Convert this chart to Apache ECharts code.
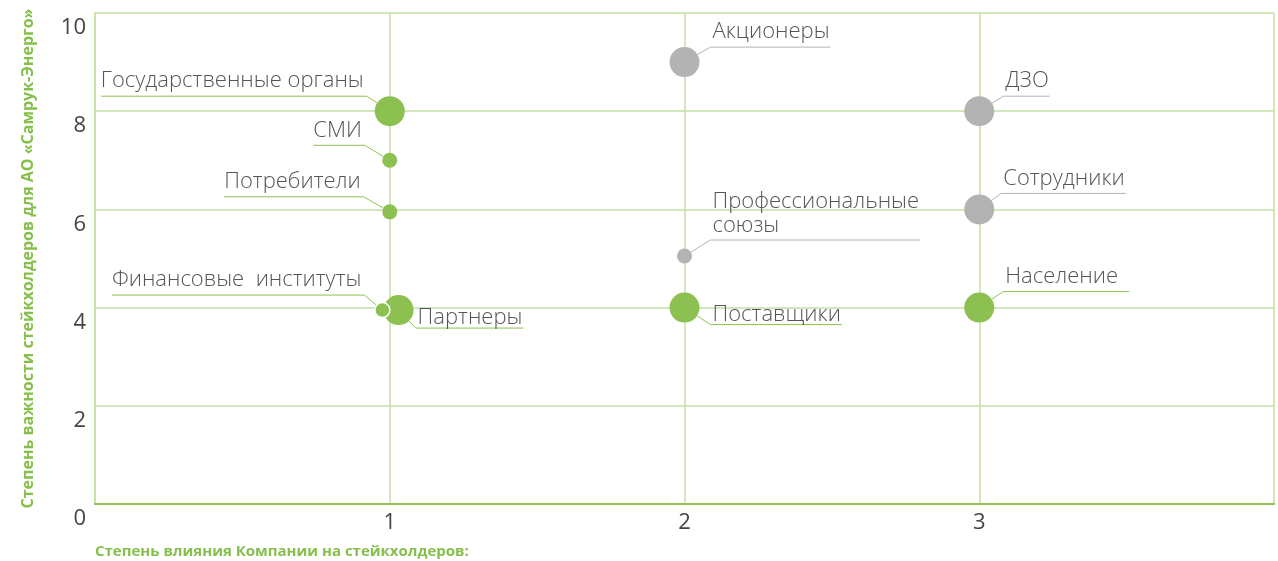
<!DOCTYPE html>
<html>
<head>
<meta charset="utf-8">
<script src="https://cdn.jsdelivr.net/npm/echarts@6/dist/echarts.min.js"></script>
<style>
  html, body { margin: 0; padding: 0; background: #fff; }
  #chart { width: 1278px; height: 561px; }
</style>
</head>
<body>
<div id="chart"></div>
<script>
// Stakeholder map: influence of the company (x) vs importance for the company (y)
const stakeholders = ['Государственные органы', 'СМИ', 'Потребители', 'Партнеры', 'Финансовые  институты',
  'Поставщики', 'Население', 'Акционеры', 'ДЗО', 'Сотрудники', 'Профессиональные\nсоюзы'];
const influence = [1, 1, 1, 1.03, 0.975, 2, 3, 2, 3, 3, 2];
const importance = [8, 7, 5.95, 3.95, 3.95, 4, 4, 9, 8, 6, 5.05];
const weight = ['major', 'minor', 'minor', 'major', 'minor', 'major', 'major', 'major', 'major', 'major', 'minor'];
const group = ['green', 'green', 'green', 'green', 'green', 'green', 'green', 'gray', 'gray', 'gray', 'gray'];

const xTicks = [0, 1, 2, 3, 4];
const yTicks = [0, 2, 4, 6, 8, 10];
const xTitle = 'Степень влияния Компании на стейкхолдеров:';
const yTitle = 'Степень важности стейкхолдеров для АО «Самрук-Энерго»';

// Styling
const COLORS = { green: '#8cc152', gray: '#b3b3b3' };
const SIZES = { major: 30, minor: 15 };
const LABEL_FONT = { family: '"Open Sans", "DejaVu Sans", sans-serif', size: 22, weight: 300, color: '#555' };

// Leader-line placement for each label: side of the point, elbow offset (px) from the centre,
// gap between underline and text bottom, extra underline length
const labelPlacement = {
  'Государственные органы': { side: 'left', elbow: [-23, -15], gap: 4 },
  'СМИ': { side: 'left', elbow: [-25, -15], gap: 4 },
  'Потребители': { side: 'left', elbow: [-26, -15], gap: 4 },
  'Финансовые  институты': { side: 'left', elbow: [-18, -15], gap: 4 },
  'Партнеры': { side: 'right', elbow: [17, 18], gap: -1 },
  'Поставщики': { side: 'right', elbow: [26, 17], gap: -1 },
  'Население': { side: 'right', elbow: [24, -16], gap: 4, extra: 10 },
  'Акционеры': { side: 'right', elbow: [26, -15], gap: 4 },
  'ДЗО': { side: 'right', elbow: [24, -15], gap: 4 },
  'Сотрудники': { side: 'right', elbow: [22, -16], gap: 4 },
  'Профессиональные\nсоюзы': { side: 'right', elbow: [26, -16], gap: 2 }
};

const fontString = `${LABEL_FONT.weight} ${LABEL_FONT.size}px ${LABEL_FONT.family}`;
const measureCtx = document.createElement('canvas').getContext('2d');
measureCtx.font = fontString;
function textWidth(t) {
  return Math.max(...t.split('\n').map(s => measureCtx.measureText(s).width));
}

function pointsOf(g) {
  const out = [];
  stakeholders.forEach((name, i) => {
    if (group[i] !== g) return;
    const item = {
      name: name,
      value: [influence[i], importance[i]],
      symbolSize: SIZES[weight[i]]
    };
    // the small point overlapping its larger neighbour gets a white outline
    if (name === 'Финансовые  институты') {
      item.itemStyle = { borderColor: '#ffffff', borderWidth: 1.5 };
    }
    out.push(item);
  });
  return out;
}

function renderLabel(params, api) {
  const i = api.value(2);
  const name = stakeholders[i];
  const p = labelPlacement[name];
  const c = api.coord([api.value(0), api.value(1)]);
  const r = SIZES[weight[i]] / 2;
  const ex = c[0] + p.elbow[0], ey = c[1] + p.elbow[1];
  const len = Math.hypot(p.elbow[0], p.elbow[1]);
  const ax = c[0] + p.elbow[0] / len * r, ay = c[1] + p.elbow[1] / len * r;
  const w = textWidth(name);
  const dir = p.side === 'left' ? -1 : 1;
  const endX = ex + dir * (w + 3 + (p.extra || 0));
  const lineColor = COLORS[group[i]];
  const lines = name.split('\n').length;
  return {
    type: 'group',
    children: [
      {
        type: 'polyline',
        shape: { points: [[ax, ay], [ex, ey], [endX, ey]] },
        style: { stroke: lineColor, lineWidth: 1, fill: null }
      },
      {
        type: 'text',
        style: {
          text: name,
          x: p.side === 'left' ? ex - 3 : ex + 2,
          y: ey - p.gap,
          align: p.side === 'left' ? 'right' : 'left',
          verticalAlign: 'bottom',
          font: fontString,
          lineHeight: lines > 1 ? 24 : undefined,
          fill: LABEL_FONT.color
        }
      }
    ]
  };
}

const chart = echarts.init(document.getElementById('chart'), null, { renderer: 'canvas' });

const axisFont = '"Open Sans", "DejaVu Sans", sans-serif';
chart.setOption({
  animation: false,
  grid: { left: 95, right: 4, top: 13, bottom: 57 },
  xAxis: {
    type: 'value',
    min: xTicks[0], max: xTicks[xTicks.length - 1], interval: 1,
    name: xTitle,
    nameLocation: 'start',
    nameGap: 0,
    nameTextStyle: {
      color: '#86bf4c', fontWeight: 'bold', fontSize: 15, fontFamily: axisFont,
      align: 'left', verticalAlign: 'top', padding: [40, 0, 0, 0]
    },
    axisLine: { show: true, lineStyle: { color: '#8cc152', width: 2 } },
    axisTick: { show: false },
    splitLine: { show: true, lineStyle: { color: '#c3e1a4', width: 1.5 } },
    axisLabel: {
      fontSize: 22, color: '#444', margin: 8, fontFamily: axisFont,
      formatter: v => (v === xTicks[0] || v === xTicks[xTicks.length - 1]) ? '' : String(v)
    }
  },
  yAxis: {
    type: 'value',
    min: yTicks[0], max: yTicks[yTicks.length - 1], interval: 2,
    name: yTitle,
    nameLocation: 'middle',
    nameGap: 59,
    nameRotate: 90,
    nameTextStyle: { color: '#86bf4c', fontWeight: 'bold', fontSize: 16, fontFamily: axisFont },
    axisLine: { show: true, lineStyle: { color: '#c5e1a5', width: 1.5 } },
    axisTick: { show: false },
    splitLine: { show: true, lineStyle: { color: '#c3e1a4', width: 1.5 } },
    axisLabel: {
      fontSize: 22, color: '#444', margin: 9, verticalAlign: 'top', fontFamily: axisFont,
      padding: [4, 0, 0, 0]
    }
  },
  series: [
    {
      type: 'custom',
      renderItem: renderLabel,
      data: stakeholders.map((n, i) => [influence[i], importance[i], i]),
      z: 1,
      silent: true
    },
    {
      type: 'scatter',
      data: pointsOf('gray'),
      itemStyle: { color: COLORS.gray, opacity: 1 },
      z: 3
    },
    {
      type: 'scatter',
      data: pointsOf('green'),
      itemStyle: { color: COLORS.green, opacity: 1 },
      z: 3
    }
  ]
});
</script>
</body>
</html>
